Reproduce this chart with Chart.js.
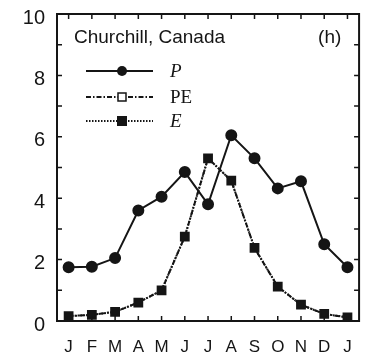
<!DOCTYPE html>
<html>
<head>
<meta charset="utf-8">
<script src="https://cdn.jsdelivr.net/npm/chart.js@4.4.1/dist/chart.umd.min.js"></script>
<style>
  html, body { margin: 0; padding: 0; background: #fff; }
  #wrap { width: 368px; height: 358px; }
</style>
</head>
<body>
<div id="wrap"><canvas id="chart" width="368" height="358"></canvas></div>
<script>
// monthly values, Jan..Dec plus Jan again
const months = ['J', 'F', 'M', 'A', 'M', 'J', 'J', 'A', 'S', 'O', 'N', 'D', 'J'];
const precip = [1.75, 1.77, 2.05, 3.6, 4.05, 4.85, 3.8, 6.05, 5.3, 4.32, 4.55, 2.5, 1.75];
const potEvap = [0.16, 0.2, 0.3, 0.6, 1.0, 2.75, 5.3, 4.57, 2.38, 1.12, 0.53, 0.23, 0.12];
const evap = [0.16, 0.2, 0.3, 0.6, 1.0, 2.75, 5.3, 4.57, 2.38, 1.12, 0.53, 0.23, 0.12];
const yTicks = [0, 2, 4, 6, 8, 10];

const ink = '#151515';
const sans = '"Liberation Sans", Arial, sans-serif';

const frame = {
    id: 'frame',
    afterDraw(chart) {
        const ctx = chart.ctx;
        const a = chart.chartArea;
        const xs = chart.scales.x, ys = chart.scales.y;
        ctx.save();
        ctx.strokeStyle = ink;
        ctx.lineWidth = 2;
        ctx.strokeRect(a.left, a.top, a.right - a.left, a.bottom - a.top);

        // inward ticks
        ctx.lineWidth = 1.5;
        ctx.beginPath();
        for (let v = 0; v <= 10; v++) {
            const y = ys.getPixelForValue(v);
            ctx.moveTo(a.left, y); ctx.lineTo(a.left + 5, y);
            ctx.moveTo(a.right, y); ctx.lineTo(a.right - 5, y);
        }
        months.forEach((m, i) => {
            const x = xs.getPixelForValue(i);
            ctx.moveTo(x, a.bottom); ctx.lineTo(x, a.bottom - 5);
            ctx.moveTo(x, a.top); ctx.lineTo(x, a.top + 5);
        });
        ctx.stroke();

        // titles
        ctx.fillStyle = ink;
        ctx.font = '19px ' + sans;
        ctx.textBaseline = 'alphabetic';
        ctx.textAlign = 'left';
        ctx.fillText('Churchill, Canada', a.left + 17, 43);
        ctx.fillText('(h)', a.right - 41, 43);

        // legend
        const rows = [
            { label: 'P', dash: [], style: 'italic', marker: 'dot' },
            { label: 'PE', dash: [5, 2, 1.5, 2], style: 'normal', marker: 'open' },
            { label: 'E', dash: [1.5, 1.5], style: 'italic', marker: 'box' }
        ];
        const ly = [71, 97, 121];
        rows.forEach((r, i) => {
            const y = ly[i];
            ctx.setLineDash(r.dash);
            ctx.lineWidth = 2;
            ctx.beginPath();
            ctx.moveTo(86, y); ctx.lineTo(153, y);
            ctx.stroke();
            ctx.setLineDash([]);
            if (r.marker === 'dot') {
                ctx.beginPath(); ctx.arc(122, y, 5, 0, Math.PI * 2); ctx.fill();
            } else if (r.marker === 'open') {
                ctx.fillStyle = '#fff';
                ctx.fillRect(118, y - 4, 8, 8);
                ctx.lineWidth = 1.5;
                ctx.strokeRect(118, y - 4, 8, 8);
                ctx.fillStyle = ink;
            } else {
                ctx.fillRect(117, y - 5, 10, 10);
            }
            ctx.font = r.style + ' 19px "Liberation Serif", "Times New Roman", serif';
            ctx.fillText(r.label, 170, y + 6);
        });
        ctx.restore();
    }
};

new Chart(document.getElementById('chart').getContext('2d'), {
    type: 'line',
    data: {
        labels: months,
        datasets: [{
            label: 'P',
            data: precip,
            borderColor: ink,
            backgroundColor: ink,
            borderWidth: 2,
            pointStyle: 'circle',
            pointRadius: 5,
            tension: 0,
            order: 0
        }, {
            label: 'E',
            data: evap,
            borderColor: ink,
            backgroundColor: ink,
            borderWidth: 2,
            borderDash: [1.5, 1.5],
            pointStyle: 'rect',
            pointRadius: 5.5,
            tension: 0,
            order: 1
        }, {
            label: 'PE',
            data: potEvap,
            borderColor: ink,
            backgroundColor: '#fff',
            borderWidth: 2,
            borderDash: [5, 2, 1.5, 2],
            pointStyle: 'rect',
            pointRadius: 4.5,
            tension: 0,
            order: 2
        }]
    },
    options: {
        responsive: false,
        animation: false,
        layout: { padding: { top: 14, right: 5, bottom: 0, left: 0 } },
        plugins: { legend: { display: false }, tooltip: { enabled: false } },
        scales: {
            x: {
                offset: true,
                grid: { display: false, drawTicks: false },
                border: { display: false },
                ticks: {
                    color: ink,
                    padding: 16,
                    autoSkip: false,
                    maxRotation: 0,
                    font: { family: sans, size: 17 }
                },
                afterFit(s) { s.height = 37; }
            },
            y: {
                min: 0,
                max: 10,
                afterBuildTicks(s) { s.ticks = yTicks.map(v => ({ value: v })); },
                grid: { display: false, drawTicks: false },
                border: { display: false },
                ticks: {
                    color: ink,
                    padding: 12,
                    labelOffset: 4,
                    font: { family: sans, size: 20 }
                },
                afterFit(s) {
                    s.width = 57;
                    s.paddingTop = 0;
                    s.paddingBottom = 0;
                }
            }
        }
    },
    plugins: [frame]
});
</script>
</body>
</html>
